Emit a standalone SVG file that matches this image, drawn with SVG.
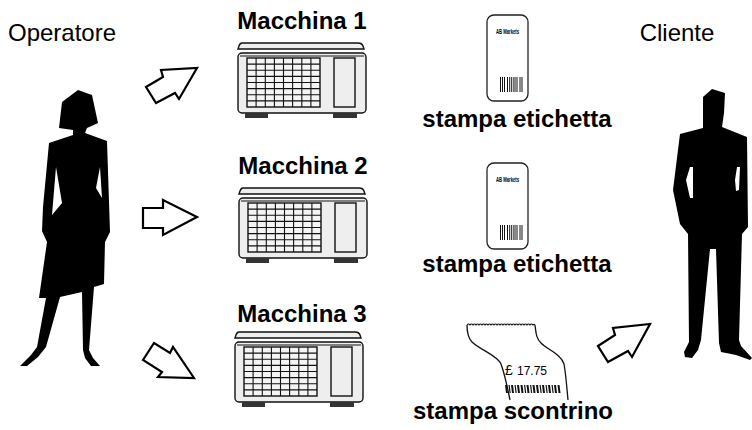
<svg xmlns="http://www.w3.org/2000/svg" xmlns:xlink="http://www.w3.org/1999/xlink" width="752" height="430" viewBox="0 0 752 430">
  <style>
    .t { font-family: "Liberation Sans", Arial, sans-serif; fill: #000; }
    .title { font-size: 24px; }
    .bold { font-size: 24px; font-weight: bold; text-anchor: middle; }
    .arrow { fill: #fff; stroke: #000; stroke-width: 2.2; stroke-linejoin: miter; }
    .shape { fill: #eee; stroke: #111; stroke-width: 1.4; }
    .silhouette { fill: #000; fill-rule: evenodd; }
  </style>
  <defs>
    <!-- label scale: lid, body, keypad, display, feet -->
    <g id="scale-unit">
      <path class="shape" d="M4,-10 L120,-10 Q124,-10 125,-7 L126,-4 L0,-4 L1,-7 Q2,-10 4,-10 Z"/>
      <rect class="shape" x="0" y="0" width="128" height="60" rx="4"/>
      <line x1="2" y1="3" x2="126" y2="3" stroke="#111" stroke-width="1"/>
      <rect x="9" y="5" width="73" height="49" fill="#f4f4f4" stroke="#111" stroke-width="1.4"/>
      <path d="M18.1,5V54M27.3,5V54M36.4,5V54M45.5,5V54M54.6,5V54M63.8,5V54M72.9,5V54M9,11.1H82M9,17.3H82M9,23.4H82M9,29.5H82M9,35.6H82M9,41.8H82M9,47.9H82" stroke="#111" stroke-width="1.1" fill="none"/>
      <rect class="shape" x="96" y="5" width="21" height="49"/>
      <rect x="7" y="60" width="23" height="5" fill="#333"/>
      <rect x="95" y="60" width="24" height="5" fill="#333"/>
    </g>
    <!-- adhesive price label -->
    <g id="label-unit">
      <rect x="0" y="0" width="41" height="86" rx="7" fill="#fff" stroke="#222" stroke-width="1.3"/>
      <text class="t" x="9" y="19" font-size="7" font-weight="bold" textLength="23" lengthAdjust="spacingAndGlyphs">AB Markets</text>
      <path d="M13,62h1v15h-1zM15,62h1v15h-1zM17,62h1v15h-1zM20,62h1v15h-1zM22,62h0.8v15h-0.8zM23.8,62h1v15h-1zM25.8,62h0.8v15h-0.8zM27.5,62h1v15h-1zM29.5,62h1v15h-1zM32.5,62h1v15h-1zM34.5,62h1v15h-1z" fill="#111"/>
    </g>
  </defs>

  <!-- people -->
  <g id="operatore">
    <path class="silhouette" d="M78,90 L92,95 L98,123 L87,128 L85,133 L107,141 L110,232 L105,242 L104,284 L94,287 L89,350 L93,358 L100,366 L91,366 L85,358 L83,350 L82,292 L60,297 L46,347 L38,357 L27,366 L20,366 L31,355 L37,347 L46,298 L39,298 L47,242 L42,231 L43,207 L49,143 L73,135 L73,130 L59,128 L62,102 Z M56,167 L62,203 L52,215 Z M100,167 L102,198 L96,188 Z"/>
    <text class="t title" x="8" y="41">Operatore</text>
  </g>
  <g id="cliente">
    <path class="silhouette" d="M712,89 L725,93 L724,113 L722,127 L747,137 L748,227 L742,234 L739,340 L741,346 L752,358 L750,360 L736,355 L721,352 L719,343 L716,249 L710,249 L701,340 L698,350 L692,358 L685,357 L684,352 L689,342 L688,234 L680,224 L673,190 L680,134 L703,128 L703,113 L703,97 Z M690,167 L693,167 L693,198 L690,198 L686,180 Z M737,167 L740,167 L739,190 L736,191 L735,180 Z"/>
    <text class="t title" x="677" y="41" text-anchor="middle">Cliente</text>
  </g>

  <!-- machines -->
  <g id="macchina1">
    <text class="t bold" x="302" y="29">Macchina 1</text>
    <use xlink:href="#scale-unit" x="238" y="53"/>
  </g>
  <g id="macchina2">
    <text class="t bold" x="303" y="174">Macchina 2</text>
    <use xlink:href="#scale-unit" x="239" y="198"/>
  </g>
  <g id="macchina3">
    <text class="t bold" x="302" y="322">Macchina 3</text>
    <use xlink:href="#scale-unit" x="235" y="342"/>
  </g>

  <!-- printed outputs -->
  <g id="etichetta1">
    <use xlink:href="#label-unit" x="487" y="15"/>
    <text class="t bold" x="517" y="127">stampa etichetta</text>
  </g>
  <g id="etichetta2">
    <use xlink:href="#label-unit" x="487" y="163"/>
    <text class="t bold" x="517" y="272">stampa etichetta</text>
  </g>
  <g id="scontrino">
    <path d="M467,325 q1.5,-2 3,0 q1.5,-2 3,0 q1.5,-2 3,0 q1.5,-2 3,0 q1.5,-2 3,0 q1.5,-2 3,0 q1.5,-2 3,0 q1.5,-2 3,0 q1.5,-2 3,0 q1.5,-2 3,0 q1.5,-2 3,0 q1.5,-2 3,0 q1.5,-2 3,0 q1.5,-2 3,0 q1.5,-2 3,0 q1.5,-2 3,0 q1.5,-2 3,0 q1.5,-2 3,0 q1.5,-2 3,0 q1.5,-2 3,0 q1.5,-2 3,0 q1.5,-2 3,0 q1,-1.5 2,0" fill="none" stroke="#111" stroke-width="1.1"/>
    <path d="M467,325 C467,333 468,338 472,342 C480,350 497,355 501,364 C505,375 508,390 510,400 M535,325 C536,333 536,338 541,343 C548,350 561,354 564,364 C566,375 567,390 568,400" fill="none" stroke="#111" stroke-width="1.3"/>
    <text class="t" x="505" y="375" font-size="12"><tspan font-size="14">£</tspan><tspan x="517">17.75</tspan></text>
    <path d="M505,385h2l1,8h-2zM508.5,385h1.2l1,8h-1.2zM511,385h2l1,8h-2zM514.5,385h1.2l1,8h-1.2zM517,385h2l1,8h-2zM520.5,385h2l1,8h-2zM524,385h1.2l1,8h-1.2zM526.5,385h2l1,8h-2zM530,385h1.2l1,8h-1.2zM532.5,385h2l1,8h-2zM536,385h2l1,8h-2zM539.5,385h1.2l1,8h-1.2zM542,385h2l1,8h-2zM545.5,385h1.2l1,8h-1.2zM548,385h2l1,8h-2zM551.5,385h1.2l1,8h-1.2zM554,385h2l1,8h-2zM557.5,385h2l1,8h-2z" fill="#111"/>
    <text class="t bold" x="513" y="419" font-size="22px">stampa scontrino</text>
  </g>

  <!-- connectors -->
  <g id="connectors">
    <polygon class="arrow" points="146,87 163,77 161,70 197,68 179,99 175,93 156,103"/>
    <polygon class="arrow" points="143,208 163,208 163,200 197,217 163,235 163,228 143,228"/>
    <polygon class="arrow" points="143,360 154,343 170,353 173,347 194,378 158,377 162,372"/>
    <polygon class="arrow" points="598,346 615,335 613,328 650,324 632,357 628,351 608,362"/>
  </g>
</svg>
